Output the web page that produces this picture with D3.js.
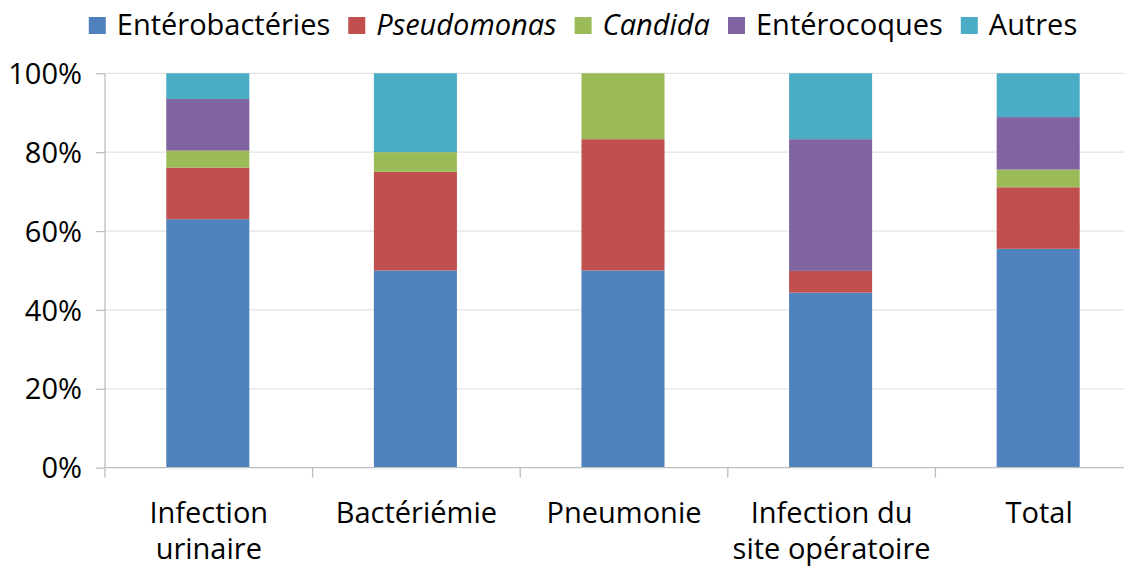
<!DOCTYPE html>
<html><head><meta charset="utf-8">
<script src="https://cdn.jsdelivr.net/npm/d3@7"></script>
<style>body{margin:0;background:#fff;}svg{display:block;}</style>
</head><body>
<svg id="c" width="1124" height="567"></svg>
<script>
const categories = [["Infection","urinaire"],["Bactériémie"],["Pneumonie"],["Infection du","site opératoire"],["Total"]];
const seriesNames = ["Entérobactéries","Pseudomonas","Candida","Entérocoques","Autres"];
const seriesItalic = [false,true,true,false,false];
const colors = ["#4F81BD","#C0504D","#9BBB59","#8064A2","#4BACC6"];
const enterobacteries = [63.0, 50.0, 50.0, 44.4, 55.5];
const pseudomonas     = [13.1, 25.0, 33.3, 5.5, 15.6];
const candida         = [4.3, 5.0, 16.7, 0, 4.5];
const enterocoques    = [13.1, 0, 0, 33.4, 13.3];
const autres          = [6.5, 20.0, 0, 16.7, 11.1];
const yTicks = [0,20,40,60,80,100];

const series = [enterobacteries, pseudomonas, candida, enterocoques, autres];
const font = "Open Sans, sans-serif";
const svg = d3.select("#c");
const x = d3.scaleBand().domain(d3.range(categories.length)).range([105,1143]).paddingInner(0.6).paddingOuter(0.3);
const xb = d3.scaleBand().domain(d3.range(categories.length)).range([105,1143]);
const y = d3.scaleLinear().domain([0,100]).range([467.7,73.3]);

// gridlines
svg.append("g").selectAll("line").data(yTicks.filter(d=>d>0)).join("line")
  .attr("x1",105).attr("x2",1143).attr("y1",d=>y(d)).attr("y2",d=>y(d))
  .attr("stroke","#e3e3e3").attr("stroke-width",1.2);

// stacked data
const rows = categories.map((c,i)=>{const o={i}; seriesNames.forEach((s,j)=>o[s]=series[j][i]); return o;});
const stack = d3.stack().keys(seriesNames)(rows);
svg.append("g").selectAll("g").data(stack).join("g").attr("fill",(d,i)=>colors[i])
  .selectAll("rect").data(d=>d).join("rect")
  .attr("x",d=>x(d.data.i)-1).attr("width",x.bandwidth())
  .attr("y",d=>y(d[1])).attr("height",d=>Math.max(0,y(d[0])-y(d[1])));

// y axis
const ya = svg.append("g").attr("transform","translate(105,0)")
  .call(d3.axisLeft(y).tickValues(yTicks).tickFormat(d=>d+"%").tickSize(9).tickPadding(14));
ya.select(".domain").attr("stroke","#bfbfbf").attr("stroke-width",1.3).attr("d","M0,73.3V467.7");
ya.selectAll(".tick line").attr("stroke","#bfbfbf").attr("stroke-width",1.3);
ya.selectAll("text").attr("font-family",font).attr("font-size",29).attr("fill","#000").attr("dy","0.35em");

// x axis
const xa = svg.append("g").attr("transform","translate(0,467.7)");
xa.append("line").attr("x1",105).attr("x2",1143).attr("stroke","#bfbfbf").attr("stroke-width",1.3);
xa.selectAll("line.t").data(d3.range(categories.length+1)).join("line").attr("class","t")
  .attr("x1",d=>105+d*xb.step()).attr("x2",d=>105+d*xb.step()).attr("y1",0).attr("y2",10)
  .attr("stroke","#bfbfbf").attr("stroke-width",1.3);
const lab = xa.selectAll("text.l").data(categories).join("text").attr("class","l")
  .attr("x",(d,i)=>xb(i)+xb.bandwidth()/2).attr("y",55)
  .attr("text-anchor","middle").attr("font-family",font).attr("font-size",29).attr("fill","#000");
lab.selectAll("tspan").data(d=>d).join("tspan")
  .attr("x",function(){return this.parentNode.getAttribute("x");})
  .attr("dy",(d,i)=>i===0?0:36).text(d=>d);

// legend
const lg = svg.append("g");
const items = [];
seriesNames.forEach((s,i)=>{
  const g = lg.append("g");
  g.append("rect").attr("x",0).attr("y",-8).attr("width",17).attr("height",17).attr("fill",colors[i]);
  const t = g.append("text").attr("x",28).attr("y",0).attr("dy","0.35em").attr("font-family",font)
    .attr("font-size",29).attr("font-style",seriesItalic[i]?"italic":"normal").text(s);
  const w = 28 + t.node().getComputedTextLength();
  items.push({g,w});
});
const gap = 18;
const total = d3.sum(items,d=>d.w)+gap*(items.length-1);
let pos = 583 - total/2;
items.forEach(it=>{it.g.attr("transform",`translate(${pos},25)`); pos += it.w+gap;});
</script>
</body></html>
